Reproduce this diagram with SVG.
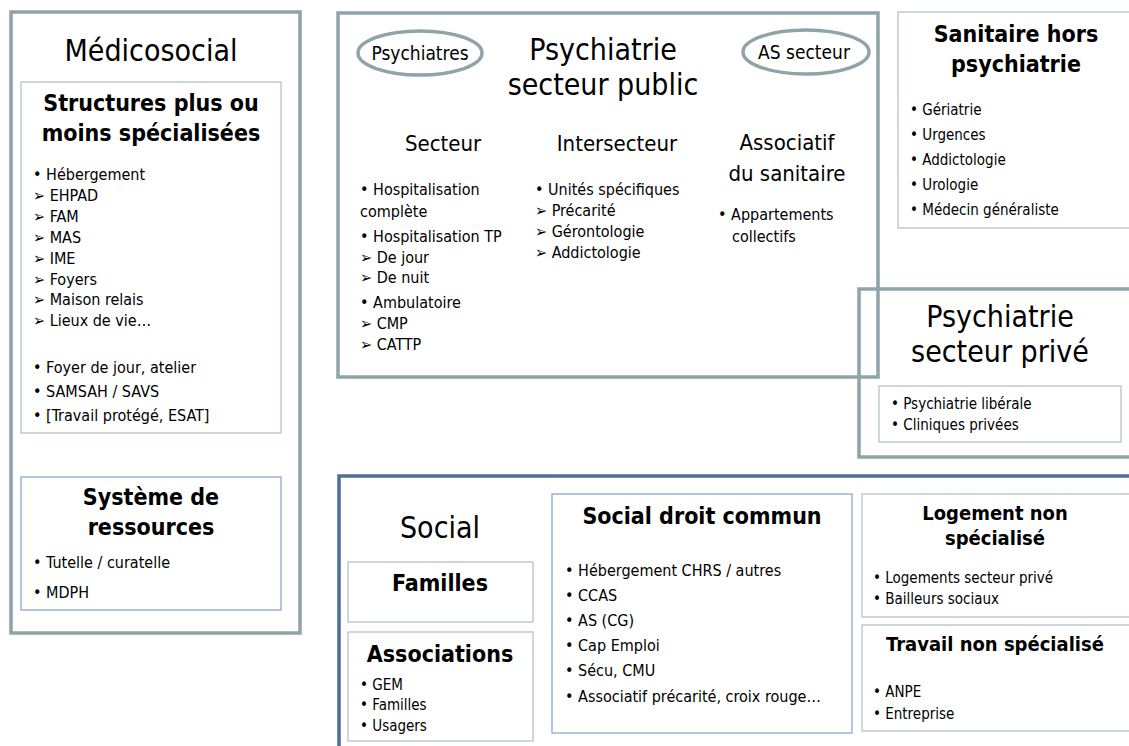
<svg xmlns="http://www.w3.org/2000/svg" width="1129" height="746" viewBox="0 0 1129 746">
  <style>
    text { font-family: "DejaVu Sans Condensed", "DejaVu Sans", sans-serif; fill: #000; }
    .big { font-size: 30px; text-anchor: middle; }
    .mid { font-size: 22px; text-anchor: middle; }
    .hd { font-size: 23px; font-weight: bold; text-anchor: middle; }
    .hd2 { font-size: 20px; font-weight: bold; text-anchor: middle; }
    .li { font-size: 16px; }
    .ls { font-size: 15px; }
    .ov { font-size: 19px; text-anchor: middle; }
    .frame { fill: #fff; stroke: #8fa3a8; stroke-width: 3.5; }
    .frameb { fill: #fff; stroke: #4f6d99; stroke-width: 3.5; }
    .box { fill: #fff; stroke: #b4c3c7; stroke-width: 1.3; }
    .boxb { fill: #fff; stroke: #8aa7cf; stroke-width: 1.3; }
    .oval { fill: #fff; stroke: #8fa3a8; stroke-width: 3.5; }
  </style>

  <rect x="0" y="0" width="1129" height="746" fill="#fff"/>

  <!-- Médicosocial -->
  <g id="medicosocial">
    <rect class="frame" x="11" y="12" width="289" height="621"/>
    <text class="big" x="151" y="61">Médicosocial</text>
    <g id="structures">
      <rect class="box" x="21" y="82" width="260" height="351"/>
      <text class="hd" x="151" y="111">Structures plus ou</text>
      <text class="hd" x="151" y="141">moins spécialisées</text>
      <text class="li" x="33" y="180">• Hébergement</text>
      <text class="li" x="33" y="201">➢ EHPAD</text>
      <text class="li" x="33" y="222">➢ FAM</text>
      <text class="li" x="33" y="243">➢ MAS</text>
      <text class="li" x="33" y="264">➢ IME</text>
      <text class="li" x="33" y="285">➢ Foyers</text>
      <text class="li" x="33" y="305">➢ Maison relais</text>
      <text class="li" x="33" y="326">➢ Lieux de vie…</text>
      <text class="li" x="33" y="373">• Foyer de jour, atelier</text>
      <text class="li" x="33" y="397">• SAMSAH / SAVS</text>
      <text class="li" x="33" y="421">• [Travail protégé, ESAT]</text>
    </g>
    <g id="ressources">
      <rect class="boxb" x="21" y="477" width="260" height="133"/>
      <text class="hd" x="151" y="505">Système de</text>
      <text class="hd" x="151" y="535">ressources</text>
      <text class="li" x="33" y="568">• Tutelle / curatelle</text>
      <text class="li" x="33" y="598">• MDPH</text>
    </g>
  </g>

  <!-- Psychiatrie secteur public -->
  <g id="psy-public">
    <rect class="frame" x="338" y="13" width="540" height="364"/>
    <ellipse class="oval" cx="420" cy="53" rx="62" ry="22"/>
    <text class="ov" x="420" y="60">Psychiatres</text>
    <ellipse class="oval" cx="806" cy="52" rx="63" ry="22"/>
    <text class="ov" x="804" y="59">AS secteur</text>
    <text class="big" x="603" y="60">Psychiatrie</text>
    <text class="big" x="603" y="95">secteur public</text>

    <text class="mid" x="443" y="151">Secteur</text>
    <text class="mid" x="617" y="151">Intersecteur</text>
    <text class="mid" x="787" y="150">Associatif</text>
    <text class="mid" x="787" y="181">du sanitaire</text>

    <text class="li" x="360" y="195">• Hospitalisation</text>
    <text class="li" x="360" y="217">complète</text>
    <text class="li" x="360" y="242">• Hospitalisation  TP</text>
    <text class="li" x="360" y="263">➢ De jour</text>
    <text class="li" x="360" y="283">➢ De nuit</text>
    <text class="li" x="360" y="308">• Ambulatoire</text>
    <text class="li" x="360" y="329">➢ CMP</text>
    <text class="li" x="360" y="350">➢ CATTP</text>

    <text class="li" x="535" y="195">• Unités spécifiques</text>
    <text class="li" x="535" y="216">➢ Précarité</text>
    <text class="li" x="535" y="237">➢ Gérontologie</text>
    <text class="li" x="535" y="258">➢ Addictologie</text>

    <text class="li" x="718" y="220">• Appartements</text>
    <text class="li" x="732" y="242">collectifs</text>
  </g>

  <!-- Sanitaire hors psychiatrie -->
  <g id="sanitaire">
    <rect class="box" x="898" y="12" width="236" height="216"/>
    <text class="hd" x="1016" y="42">Sanitaire hors</text>
    <text class="hd" x="1016" y="72">psychiatrie</text>
    <text class="ls" x="910" y="115">• Gériatrie</text>
    <text class="ls" x="910" y="140">• Urgences</text>
    <text class="ls" x="910" y="165">• Addictologie</text>
    <text class="ls" x="910" y="190">• Urologie</text>
    <text class="ls" x="910" y="215">• Médecin généraliste</text>
  </g>

  <!-- Psychiatrie secteur privé (unfilled, overlaps the public frame) -->
  <g id="psy-prive">
    <rect class="frame" x="859" y="289" width="276" height="168" style="fill:none"/>
    <text class="big" x="1000" y="327">Psychiatrie</text>
    <text class="big" x="1000" y="362">secteur privé</text>
    <rect class="box" x="879" y="386" width="242" height="56"/>
    <text class="ls" x="891" y="409">• Psychiatrie libérale</text>
    <text class="ls" x="891" y="430">• Cliniques privées</text>
  </g>

  <!-- Social -->
  <g id="social">
    <rect class="frameb" x="339" y="476" width="800" height="280"/>
    <text class="big" x="440" y="538">Social</text>
    <g id="familles">
      <rect class="box" x="348" y="562" width="185" height="60"/>
      <text class="mid" x="440" y="591" style="font-weight:bold;font-size:23px">Familles</text>
    </g>
    <g id="associations">
      <rect class="box" x="348" y="632" width="185" height="109"/>
      <text class="hd" x="440" y="662">Associations</text>
      <text class="ls" x="360" y="690">• GEM</text>
      <text class="ls" x="360" y="710">• Familles</text>
      <text class="ls" x="360" y="731">• Usagers</text>
    </g>
    <g id="droit-commun">
      <rect class="boxb" x="552" y="494" width="300" height="239"/>
      <text class="hd2" x="702" y="524" style="font-size:23px">Social droit commun</text>
      <text class="li" x="565" y="576">• Hébergement CHRS / autres</text>
      <text class="li" x="565" y="601">• CCAS</text>
      <text class="li" x="565" y="626">• AS (CG)</text>
      <text class="li" x="565" y="651">• Cap Emploi</text>
      <text class="li" x="565" y="676">• Sécu, CMU</text>
      <text class="li" x="565" y="702">• Associatif précarité, croix rouge…</text>
    </g>
    <g id="logement">
      <rect class="box" x="862" y="494" width="272" height="123"/>
      <text class="hd2" x="995" y="520">Logement non</text>
      <text class="hd2" x="995" y="545">spécialisé</text>
      <text class="ls" x="873" y="583">• Logements secteur privé</text>
      <text class="ls" x="873" y="604">• Bailleurs sociaux</text>
    </g>
    <g id="travail">
      <rect class="box" x="862" y="625" width="272" height="106"/>
      <text class="hd2" x="995" y="651">Travail non spécialisé</text>
      <text class="ls" x="873" y="697">• ANPE</text>
      <text class="ls" x="873" y="719">• Entreprise</text>
    </g>
  </g>

  <!-- no connectors in this figure -->
  <g id="connectors"/>
</svg>
